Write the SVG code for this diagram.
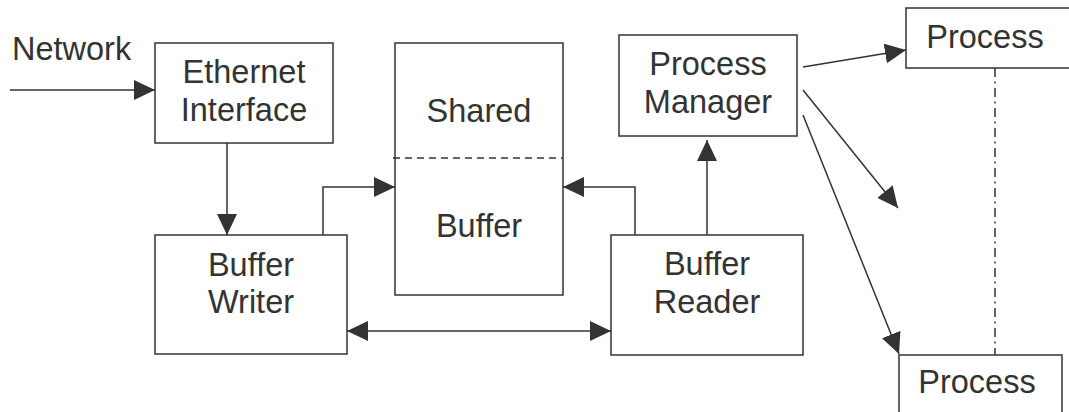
<svg xmlns="http://www.w3.org/2000/svg" width="1069" height="412" viewBox="0 0 1069 412">
  <style>
    .box { fill: #ffffff; stroke: #333333; stroke-width: 1.5; }
    .line { fill: none; stroke: #333333; stroke-width: 1.5; }
    .label { font-family: "Liberation Sans", Arial, sans-serif; font-size: 32.5px; fill: #333333; text-anchor: middle; }
  </style>
  <defs>
    <marker id="arrow" viewBox="0 0 21 20" refX="21" refY="10" markerWidth="21" markerHeight="20" markerUnits="userSpaceOnUse" orient="auto-start-reverse">
      <path d="M0,0 L21,10 L0,20 z" fill="#333333"/>
    </marker>
  </defs>
  <rect width="1069" height="412" fill="#ffffff"/>

  <!-- incoming network label -->
  <text class="label" x="12" y="60" style="text-anchor:start">Network</text>

  <g id="ethernet-interface">
    <rect class="box" x="155" y="43" width="178" height="100"/>
    <text class="label" x="244" y="83">Ethernet</text>
    <text class="label" x="244" y="121">Interface</text>
  </g>

  <g id="buffer-writer">
    <rect class="box" x="155" y="235" width="192" height="119"/>
    <text class="label" x="251" y="276">Buffer</text>
    <text class="label" x="251" y="313">Writer</text>
  </g>

  <g id="shared-buffer">
    <rect class="box" x="395" y="43" width="168" height="252"/>
    <line class="line" x1="393" y1="158" x2="563" y2="158" stroke-dasharray="7,5"/>
    <text class="label" x="479" y="122">Shared</text>
    <text class="label" x="479" y="237">Buffer</text>
  </g>

  <g id="buffer-reader">
    <rect class="box" x="611" y="235" width="192" height="120"/>
    <text class="label" x="707" y="275">Buffer</text>
    <text class="label" x="707" y="313">Reader</text>
  </g>

  <g id="process-manager">
    <rect class="box" x="619" y="35" width="178" height="101"/>
    <text class="label" x="708" y="75">Process</text>
    <text class="label" x="708" y="113">Manager</text>
  </g>

  <g id="process-top">
    <rect class="box" x="906" y="8" width="200" height="60"/>
    <text class="label" x="985" y="48">Process</text>
  </g>

  <g id="process-bottom">
    <rect class="box" x="899" y="355" width="163" height="100"/>
    <text class="label" x="977" y="393">Process</text>
  </g>

  <g id="connectors">
    <path class="line" d="M10,90 H155" marker-end="url(#arrow)"/>
    <path class="line" d="M227,143 V235" marker-end="url(#arrow)"/>
    <path class="line" d="M323,235 V187 H395" marker-end="url(#arrow)"/>
    <path class="line" d="M635,235 V187 H563" marker-end="url(#arrow)"/>
    <path class="line" d="M707,235 V140" marker-end="url(#arrow)"/>
    <path class="line" d="M347,331 H611" marker-start="url(#arrow)" marker-end="url(#arrow)"/>
    <path class="line" d="M803,67 L906,50" marker-end="url(#arrow)"/>
    <path class="line" d="M803,90 L898,208" marker-end="url(#arrow)"/>
    <path class="line" d="M803,115 L899,354" marker-end="url(#arrow)"/>
    <path class="line" d="M995,68 V355" stroke-dasharray="9,4.5,2,4.5"/>
  </g>
</svg>
